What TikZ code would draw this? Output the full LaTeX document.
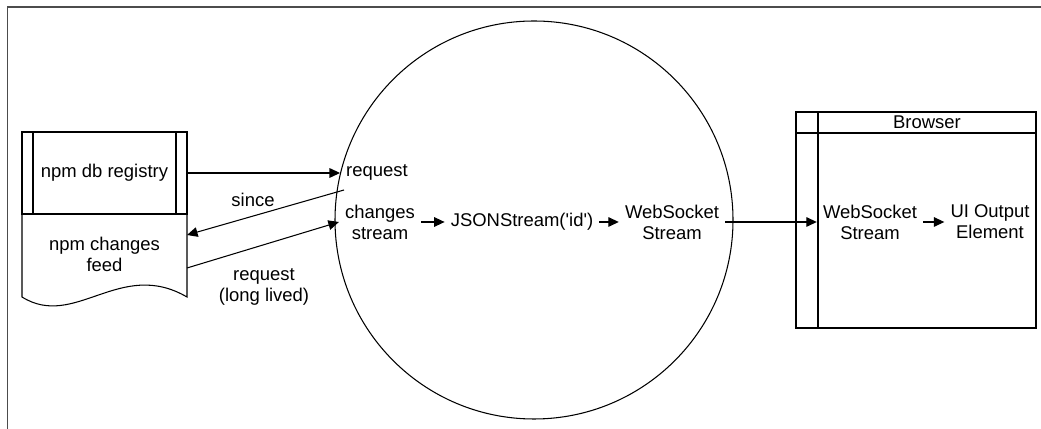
\documentclass[tikz,border=0pt]{standalone}
\usepackage{fontspec}
\setmainfont{Liberation Sans}
\usetikzlibrary{arrows.meta}

\begin{document}
\begin{tikzpicture}[
	lbl/.style={align=center, font=\fontsize{10.5}{12}\selectfont},
	flow/.style={-{Triangle[length=6pt, width=5.5pt]}},
	thin line/.style={line width=0.6pt}
]
\useasboundingbox (0, 0) rectangle (20.82, 8.58);

\draw[line width=1.1pt, black!70] (0.15, 0) -- (0.15, 8.44) -- (20.82, 8.44);

\draw[thin line] (10.68, 4.18) circle (3.98);

\node[draw, thin line, lbl, minimum width=3.3cm, minimum height=1.64cm] (registry) at (2.09, 5.12) {npm db registry};
\draw[thin line] (0.66, 4.30) -- (0.66, 5.94);
\draw[thin line] (3.52, 4.30) -- (3.52, 5.94);
\draw[thin line] (0.44, 4.30) -- (0.44, 2.64) .. controls (1.50, 1.98) and (2.40, 3.42) .. (3.74, 2.64) -- (3.74, 4.30);
\node[lbl] (feed) at (2.09, 3.50) {npm changes\\feed};
\coordinate (feedin) at (3.74, 3.88);
\coordinate (feedout) at (3.74, 3.22);
\coordinate (sinceout) at (6.88, 4.78);

\node[lbl] (since) at (5.06, 4.58) {since};
\node[lbl] (longlived) at (5.28, 2.84) {request\\(long lived)};

\node[lbl] (req) at (7.54, 5.14) {request};
\node[lbl] (chg) at (7.60, 4.14) {changes\\stream};
\node[lbl] (json) at (10.44, 4.14) {JSONStream(\textquotesingle id\textquotesingle)};
\node[lbl] (ws) at (13.44, 4.14) {WebSocket\\Stream};

\node[draw, thin line, minimum width=4.8cm, minimum height=4.32cm] (browserbox) at (18.32, 4.18) {};
\draw[thin line] (16.36, 2.02) -- (16.36, 6.34);
\draw[thin line] (15.92, 5.92) -- (20.72, 5.92);
\node[lbl] (browser) at (18.54, 6.14) {Browser};
\node[lbl] (bws) at (17.40, 4.14) {WebSocket\\Stream};
\node[lbl] (ui) at (19.80, 4.14) {UI Output\\Element};

\draw[flow, thin line] (registry.east) -- (registry.east -| req.west);
\draw[flow, thin line] (sinceout) -- (feedin);
\draw[flow, thin line] (feedout) -- (chg.west);

\foreach \a/\b in {chg/json, json/ws, ws/bws, bws/ui} {
	\draw[flow, thin line] (\a) -- (\b);
}

\end{tikzpicture}
\end{document}
